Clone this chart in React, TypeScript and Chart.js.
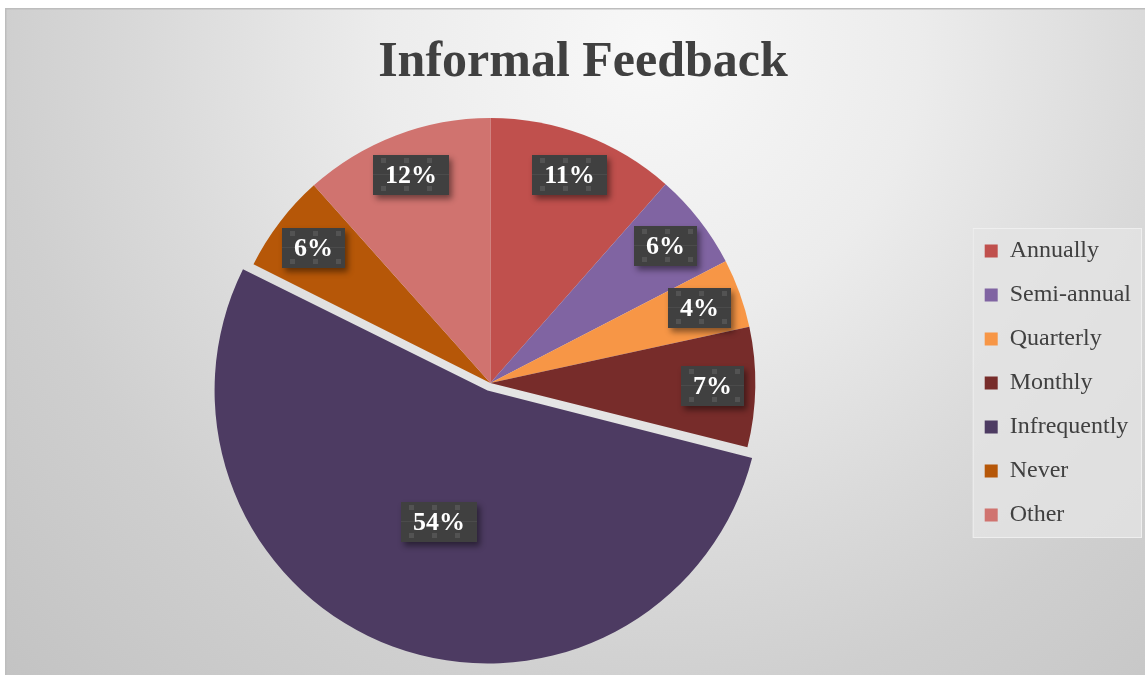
import React, { useEffect, useRef } from "react";
import { Chart, registerables } from "chart.js";

Chart.register(...registerables);

const chartTitle = "Informal Feedback";
const categories = ["Annually", "Semi-annual", "Quarterly", "Monthly", "Infrequently", "Never", "Other"];
const shares = [11.5, 5.9, 4.2, 7.3, 53.5, 6.0, 11.6];
const percentLabels = ["11%", "6%", "4%", "7%", "54%", "6%", "12%"];
const sliceColors = ["#c0504d", "#8064a2", "#f79646", "#772c2a", "#4d3b62", "#b65708", "#d0736f"];
const explodedCategory = "Infrequently";

const FONT = "'Liberation Serif', 'Times New Roman', serif";

const backgroundPlugin = {
  id: "bgPlugin",
  beforeDraw(chart: any) {
    const { ctx, width, height } = chart;
    ctx.save();
    const g = ctx.createRadialGradient(645, 42, 0, 645, 42, 900);
    g.addColorStop(0, "#f8f8f8");
    g.addColorStop(0.3, "#ececec");
    g.addColorStop(0.55, "#dadada");
    g.addColorStop(0.72, "#cfcfcf");
    g.addColorStop(1, "#c3c3c3");
    ctx.fillStyle = g;
    ctx.fillRect(0, 0, width, height);
    ctx.strokeStyle = "#bdbdbd";
    ctx.lineWidth = 1.5;
    ctx.strokeRect(0.75, 0.75, width + 10, height + 10);

    const legend = chart.legend;
    if (legend && legend.legendHitBoxes && legend.legendHitBoxes.length) {
      const hb = legend.legendHitBoxes;
      const first = hb[0];
      const last = hb[hb.length - 1];
      const left = first.left - 12;
      const top = first.top - 11;
      const bottom = last.top + last.height + 11;
      ctx.fillStyle = "rgba(228,228,228,0.8)";
      ctx.fillRect(left, top, width - 3 - left, bottom - top);
      ctx.strokeStyle = "rgba(240,240,240,0.9)";
      ctx.lineWidth = 1;
      ctx.strokeRect(left + 0.5, top + 0.5, width - 4 - left, bottom - top - 1);
    }
    ctx.restore();
  },
};

const titlePlugin = {
  id: "titlePlugin",
  afterDraw(chart: any) {
    const { ctx } = chart;
    ctx.save();
    ctx.font = `bold 50px ${FONT}`;
    ctx.fillStyle = "#404040";
    ctx.textAlign = "center";
    ctx.textBaseline = "middle";
    ctx.fillText(chartTitle, 578, 55);
    ctx.restore();
  },
};

const labelPlugin = {
  id: "pctLabels",
  afterDatasetsDraw(chart: any) {
    const meta = chart.getDatasetMeta(0);
    const ctx = chart.ctx;
    ctx.save();
    ctx.font = `bold 26px ${FONT}`;
    meta.data.forEach((arc: any, i: number) => {
      const p = arc.getProps(["x", "y", "startAngle", "endAngle", "outerRadius"], true);
      const mid = (p.startAngle + p.endAngle) / 2;
      const off = (arc.options.offset || 0) / 4;
      const frac = shares[i] > 30 ? 0.53 : 0.84;
      const r = off + p.outerRadius * frac;
      const cx = p.x + Math.cos(mid) * r;
      const cy = p.y + Math.sin(mid) * r;
      const text = percentLabels[i];
      const tw = ctx.measureText(text).width;
      const w = Math.round(tw + 24);
      const h = 40;
      const bx = Math.round(cx - w / 2);
      const by = Math.round(cy - h / 2);
      ctx.save();
      ctx.shadowColor = "rgba(0,0,0,0.45)";
      ctx.shadowBlur = 6;
      ctx.shadowOffsetX = 3;
      ctx.shadowOffsetY = 4;
      ctx.fillStyle = "#404040";
      ctx.fillRect(bx, by, w, h);
      ctx.restore();
      ctx.fillStyle = "rgba(255,255,255,0.1)";
      for (let gx = bx + 8; gx < bx + w - 3; gx += 23) {
        ctx.fillRect(gx, by + 3, 5, 5);
        ctx.fillRect(gx, by + h - 9, 5, 5);
      }
      ctx.fillStyle = "rgba(255,255,255,0.06)";
      ctx.fillRect(bx, by + h / 2 - 1, w, 1);
      ctx.fillStyle = "#ffffff";
      ctx.textAlign = "center";
      ctx.textBaseline = "middle";
      ctx.fillText(text, bx + w / 2, by + h / 2 + 1);
    });
    ctx.restore();
  },
};

export default function App() {
  const canvasRef = useRef<HTMLCanvasElement | null>(null);

  useEffect(() => {
    if (!canvasRef.current) return;
    const chart = new Chart(canvasRef.current, {
      type: "pie",
      data: {
        labels: categories,
        datasets: [
          {
            data: shares,
            backgroundColor: sliceColors,
            borderWidth: 0,
            radius: 265,
            offset: (c: any) => (categories[c.dataIndex] === explodedCategory ? 32 : 0),
          } as any,
        ],
      },
      options: {
        animation: false,
        responsive: true,
        maintainAspectRatio: false,
        layout: { padding: { top: 100, bottom: 17, left: 11, right: 4 } },
        plugins: {
          title: { display: false },
          tooltip: { enabled: false },
          legend: {
            position: "right",
            align: "center",
            labels: {
              boxWidth: 13,
              boxHeight: 13,
              padding: 20,
              color: "#404040",
              font: { family: FONT, size: 24 },
            },
          },
        },
      },
      plugins: [backgroundPlugin, labelPlugin, titlePlugin],
    });
    return () => chart.destroy();
  }, []);

  return (
    <div style={{ position: "absolute", left: 5, top: 8, width: 1140, height: 667 }}>
      <canvas ref={canvasRef} />
    </div>
  );
}
